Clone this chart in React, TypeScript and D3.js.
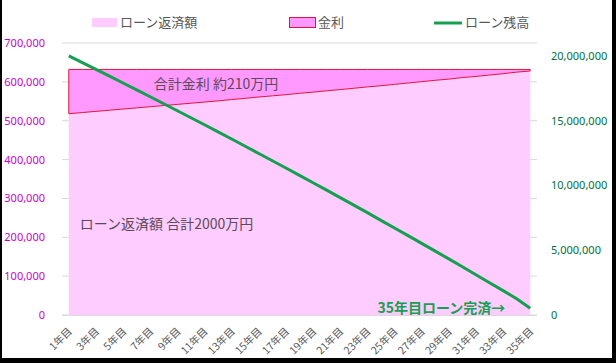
import React from "react";
import * as d3 from "d3";

// 年次 (1年目〜35年目)
const years = d3.range(1, 36).map((n) => `${n}年目`);

// 元金返済額 (円/年)
const principal = [
  518000, 521000, 524000, 527000, 530000, 533000, 536000, 539000, 542000,
  545000, 548000, 551000, 554500, 557500, 561000, 564000, 567000, 570500,
  573500, 577000, 580000, 583500, 587000, 590000, 593500, 597000, 600500,
  604000, 607000, 611000, 614000, 617500, 621000, 625000, 628000,
];

// 金利分 (円/年)
const interest = [
  114000, 111000, 108000, 105000, 102000, 99000, 96000, 93000, 90000, 87000,
  84000, 81000, 77500, 74500, 71000, 68000, 65000, 61500, 58500, 55000, 52000,
  48500, 45000, 42000, 38500, 35000, 31500, 28000, 25000, 21000, 18000, 14500,
  11000, 7000, 4000,
];

// ローン残高 (円)
const balance = [
  20000000, 19480000, 18960000, 18440000, 17910000, 17380000, 16850000,
  16310000, 15770000, 15230000, 14690000, 14140000, 13590000, 13030000,
  12470000, 11910000, 11350000, 10780000, 10210000, 9640000, 9060000, 8480000,
  7900000, 7310000, 6720000, 6130000, 5530000, 4930000, 4330000, 3720000,
  3110000, 2490000, 1880000, 1250000, 520000,
];

const leftTicks = [0, 100000, 200000, 300000, 400000, 500000, 600000, 700000];
const rightTicks = [0, 5000000, 10000000, 15000000, 20000000];

const W = 616;
const H = 363;
const plot = { left: 62, right: 537, top: 43, bottom: 315 };

const FONT = "'Noto Sans CJK JP', 'Noto Sans', sans-serif";
const NUMFONT = "'Noto Sans', 'Liberation Sans', sans-serif";

export default function App() {
  const x = d3
    .scalePoint<string>()
    .domain(years)
    .range([plot.left, plot.right])
    .padding(0.5);
  const yL = d3.scaleLinear().domain([0, 700000]).range([plot.bottom, plot.top]);
  const yR = d3
    .scaleLinear()
    .domain([0, 21000000])
    .range([plot.bottom, plot.top]);

  const fmt = d3.format(",");

  const rows = years.map((y, i) => ({
    y,
    p: principal[i],
    t: principal[i] + interest[i],
    b: balance[i],
  }));

  const areaP = d3
    .area<(typeof rows)[number]>()
    .x((d) => x(d.y)!)
    .y0(yL(0))
    .y1((d) => yL(d.p));
  const areaI = d3
    .area<(typeof rows)[number]>()
    .x((d) => x(d.y)!)
    .y0((d) => yL(d.p))
    .y1((d) => yL(d.t));
  const line = d3
    .line<(typeof rows)[number]>()
    .x((d) => x(d.y)!)
    .y((d) => yR(d.b));

  const first = x(years[0])!;

  return (
    <div style={{ position: "absolute", left: 0, top: 0 }}>
      <svg width={W} height={H} style={{ display: "block" }}>
        <rect x={0} y={0} width={W} height={H} fill="#fff" />
        {/* frame */}
        <rect x={0} y={0} width={2} height={H} fill="#000" />
        <rect x={W - 4} y={0} width={4} height={H} fill="#000" />
        <rect x={0} y={H - 5} width={W} height={5} fill="#000" />

        {/* legend */}
        <g fontFamily={FONT} fontSize={13} fill="#595959">
          <rect x={92} y={18} width={25} height={9} fill="#FFCCFF" />
          <text x={120} y={27}>ローン返済額</text>
          <rect x={289.5} y={17.5} width={26} height={10} fill="#FF99FF" stroke="#E0143C" />
          <text x={318} y={27}>金利</text>
          <line x1={434} x2={462} y1={23} y2={23} stroke="#14A050" strokeWidth={3} />
          <text x={465} y={27}>ローン残高</text>
        </g>

        {/* gridlines */}
        {leftTicks.map((t) => (
          <line
            key={t}
            x1={plot.left}
            x2={plot.right}
            y1={yL(t)}
            y2={yL(t)}
            stroke="#D9D9D9"
          />
        ))}

        {/* areas */}
        <path d={areaP(rows)!} fill="#FFCCFF" />
        <path d={areaI(rows)!} fill="#FF99FF" stroke="#E0143C" strokeWidth={1} />

        {/* x axis line */}
        <line
          x1={plot.left}
          x2={plot.right}
          y1={plot.bottom + 0.5}
          y2={plot.bottom + 0.5}
          stroke="#D9D9D9"
        />

        {/* balance line */}
        <path d={line(rows)!} fill="none" stroke="#14A050" strokeWidth={3} />

        {/* left axis */}
        <g fontFamily={NUMFONT} fontSize={11} fill="#CC00CC" textAnchor="end">
          {leftTicks.map((t) => (
            <text key={t} x={45} y={yL(t) + 4}>
              {fmt(t)}
            </text>
          ))}
        </g>

        {/* right axis */}
        <g fontFamily={NUMFONT} fontSize={11} fill="#00703C" textAnchor="start">
          {rightTicks.map((t) => (
            <text key={t} x={551} y={yR(t) + 4}>
              {fmt(t)}
            </text>
          ))}
        </g>

        {/* x labels */}
        <g fontFamily={FONT} fontSize={10.5} fill="#595959" textAnchor="end">
          {years
            .filter((_, i) => i % 2 === 0)
            .map((y) => (
              <text
                key={y}
                transform={`translate(${x(y)! + 4},${plot.bottom + 17}) rotate(-45)`}
              >
                {y}
              </text>
            ))}
        </g>

        {/* annotations */}
        <g fontFamily={FONT} fontSize={14} fill="#5A4A5A">
          <text x={first + 85} y={89}>合計金利 約210万円</text>
          <text x={first + 11} y={229}>ローン返済額 合計2000万円</text>
        </g>
        <text
          x={x(years[34])! - 25}
          y={313}
          fontFamily={FONT}
          fontSize={14}
          fontWeight="bold"
          fill="#14A050"
          textAnchor="end"
        >
          35年目ローン完済→
        </text>
      </svg>
    </div>
  );
}
